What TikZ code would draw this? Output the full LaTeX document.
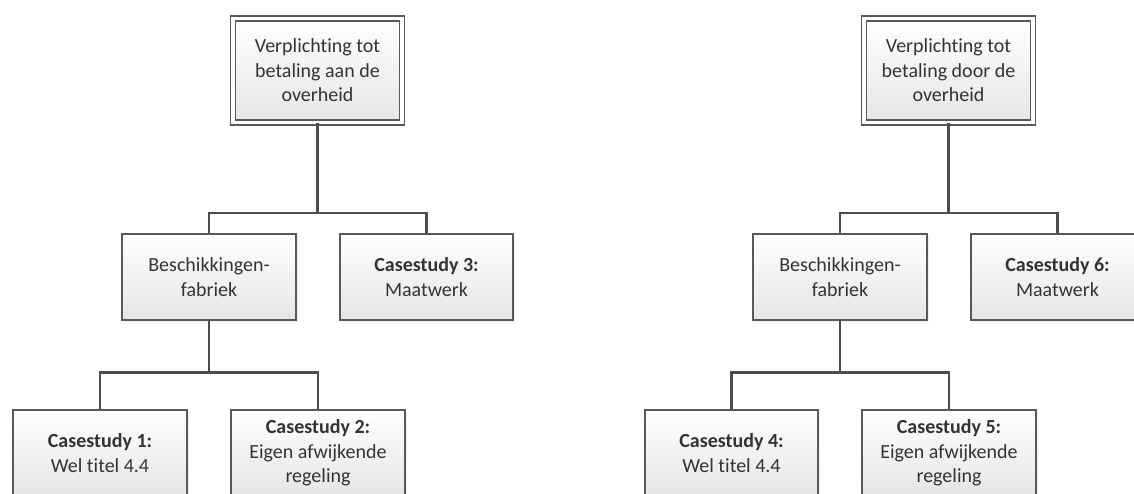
\documentclass[tikz,border=0pt]{standalone}
\usepackage{fontspec}
\setmainfont{Carlito}[Ligatures={NoCommon,NoContextual},Contextuals=NoAlternate]
\usetikzlibrary{shadows}

\begin{document}
\begin{tikzpicture}[x=1pt,y=-1pt]

\tikzset{box/.style = {draw=black!65, line width=1.6pt, top color=white, bottom color=black!10,
                       minimum width=173.5pt, minimum height=86.5pt, inner sep=0pt,
                       align=center, text=black!80, font=\fontsize{20}{24.5}\selectfont,
                       drop shadow={opacity=.12, shadow xshift=2pt, shadow yshift=-2pt}}}
\tikzset{topbox/.style = {box, double=white, double distance=3.5pt, line width=1.4pt,
                          minimum width=169pt, minimum height=104pt}}
\tikzset{edge/.style = {draw=black!70, line width=2.6pt}}

\clip (0,0) rectangle (1134,494);

\node[topbox] (0) at (317.5,70.5) {Verplichting tot\\betaling aan de\\overheid};
\node[box] (1) at (209,277) {Beschikkingen-\\fabriek};
\node[box] (2) at (426.5,277) {\textbf{Casestudy 3:}\\Maatwerk};
\node[box] (3) at (100,453) {\textbf{Casestudy 1:}\\Wel titel 4.4};
\node[box] (4) at (318,453) {\textbf{Casestudy 2:}\\Eigen afwijkende\\regeling};

\node[topbox] (5) at (948.5,70.5) {Verplichting tot\\betaling door de\\overheid};
\node[box] (6) at (840,277) {Beschikkingen-\\fabriek};
\node[box] (7) at (1057.5,277) {\textbf{Casestudy 6:}\\Maatwerk};
\node[box] (8) at (731.5,453) {\textbf{Casestudy 4:}\\Wel titel 4.4};
\node[box] (9) at (949,453) {\textbf{Casestudy 5:}\\Eigen afwijkende\\regeling};

\coordinate (a) at (317.5,213);
\coordinate (b) at (209,372.5);
\coordinate (c) at (948.5,213);
\coordinate (d) at (840,372.5);

\draw[edge] (0) -- (a) -| (1);
\draw[edge] (a) -| (2);
\draw[edge] (1) -- (b) -| (3);
\draw[edge] (b) -| (4);

\draw[edge] (5) -- (c) -| (6);
\draw[edge] (c) -| (7);
\draw[edge] (6) -- (d) -| (8);
\draw[edge] (d) -| (9);

\end{tikzpicture}
\end{document}
